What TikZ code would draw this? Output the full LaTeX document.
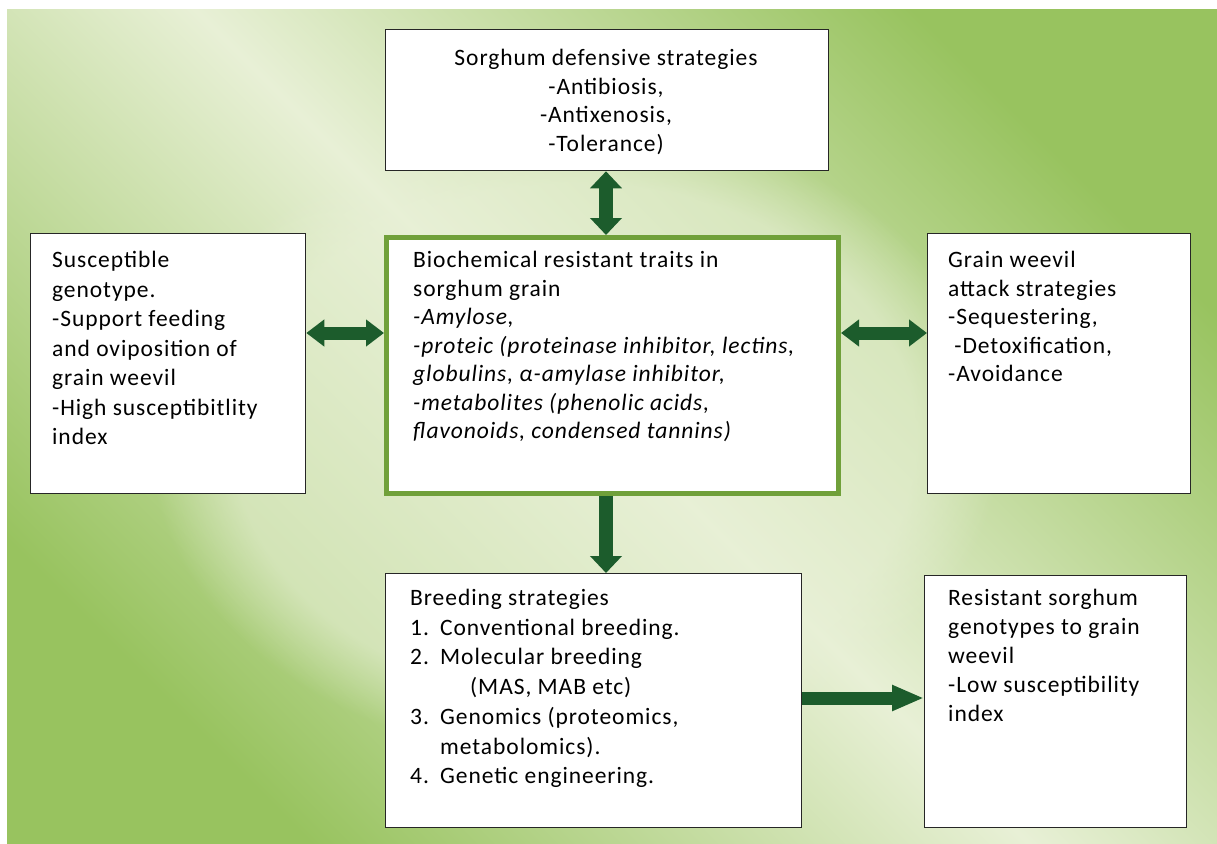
\documentclass[tikz,border=0pt]{standalone}
\usepackage{fontspec}
\setmainfont[LetterSpace=4]{Carlito}
\usetikzlibrary{arrows.meta,fadings}
\definecolor{bgdark}{RGB}{152,195,95}
\definecolor{bglight}{RGB}{232,240,214}
\definecolor{cborder}{RGB}{112,160,58}
\definecolor{arrowgreen}{RGB}{28,92,44}
\tikzset{
  box/.style={draw=black!85, line width=1.3pt, fill=white, anchor=north west, inner sep=0pt},
  mainbox/.style={draw=cborder, line width=5pt, fill=white, anchor=north west, inner sep=0pt},
  txt/.style={anchor=north west, inner sep=0pt, align=left, font=\fontsize{23.5}{28.5}\selectfont},
  vtip/.tip={Triangle[width=31pt,length=17pt]},
  htip/.tip={Triangle[width=26pt,length=18pt]},
  rtip/.tip={Triangle[width=24pt,length=32pt]},
  link/.style={draw=arrowgreen, line width=14pt},
}
\begin{document}
\begin{tikzpicture}[x=1pt,y=-1pt]
\useasboundingbox (0,0) rectangle (1217,843);
\fill[white] (0,0) rectangle (1217,843);
\shade[top color=bgdark, bottom color=bgdark, middle color=bglight, shading angle=-45] (7,10) rectangle (1217,843);
\fill[bglight, path fading=circle with fuzzy edge 20 percent, fill opacity=0.6] (150,120) rectangle (1000,760);

% boxes
\node[box, minimum width=443pt, minimum height=141pt] (top) at (385,29) {};
\node[mainbox, minimum width=452pt, minimum height=256pt] (mid) at (384,235) {};
\node[box, minimum width=275pt, minimum height=260pt] (left) at (30,233) {};
\node[box, minimum width=263pt, minimum height=260pt] (right) at (927,233) {};
\node[box, minimum width=416pt, minimum height=254pt] (breed) at (385,573) {};
\node[box, minimum width=262pt, minimum height=252pt] (res) at (924,575) {};

% texts
\node[txt, anchor=north, align=center] (toptxt) at (606,49) {Sorghum defensive strategies\\-Antibiosis,\\-Antixenosis,\\-Tolerance)};
\node[txt] (midtxt) at (413,251) {Biochemical resistant traits in\\sorghum grain\\\textit{-Amylose,}\\\textit{-proteic (proteinase inhibitor, lectins,}\\\textit{globulins, α-amylase inhibitor,}\\\textit{-metabolites (phenolic acids,}\\\textit{flavonoids, condensed tannins)}};
\node[txt, font=\fontsize{23.5}{29.5}\selectfont] (lefttxt) at (52,251) {Susceptible\\genotype.\\-Support feeding\\and oviposition of\\grain weevil\\-High susceptibitlity\\index};
\node[txt] (righttxt) at (948,251) {Grain weevil\\attack strategies\\-Sequestering,\\\ -Detoxification,\\-Avoidance};
\node[txt, font=\fontsize{23.5}{29.7}\selectfont] (breedtxt) at (410,589) {Breeding strategies\\\makebox[30pt][l]{1.}Conventional breeding.\\\makebox[30pt][l]{2.}Molecular breeding\\\hspace*{60pt}(MAS, MAB etc)\\\makebox[30pt][l]{3.}Genomics (proteomics,\\\hspace*{30pt}metabolomics).\\\makebox[30pt][l]{4.}Genetic engineering.};
\node[txt, font=\fontsize{23.5}{29}\selectfont] (restxt) at (948,589) {Resistant sorghum\\genotypes to grain\\weevil\\-Low susceptibility\\index};

% connectors
\draw[link, vtip-vtip] (top.south -| 606,0) -- (mid.north -| 606,0);
\draw[link, -vtip] (mid.south -| 606,0) -- (breed.north -| 606,0);
\draw[link, line width=13pt, htip-htip] (left.east |- 0,333) -- (mid.west |- 0,333);
\draw[link, line width=13pt, htip-htip] (mid.east |- 0,333) -- (right.west |- 0,333);
\draw[link, line width=13pt, -rtip] (breed.east |- 0,698) -- (res.west |- 0,698);
\end{tikzpicture}
\end{document}
